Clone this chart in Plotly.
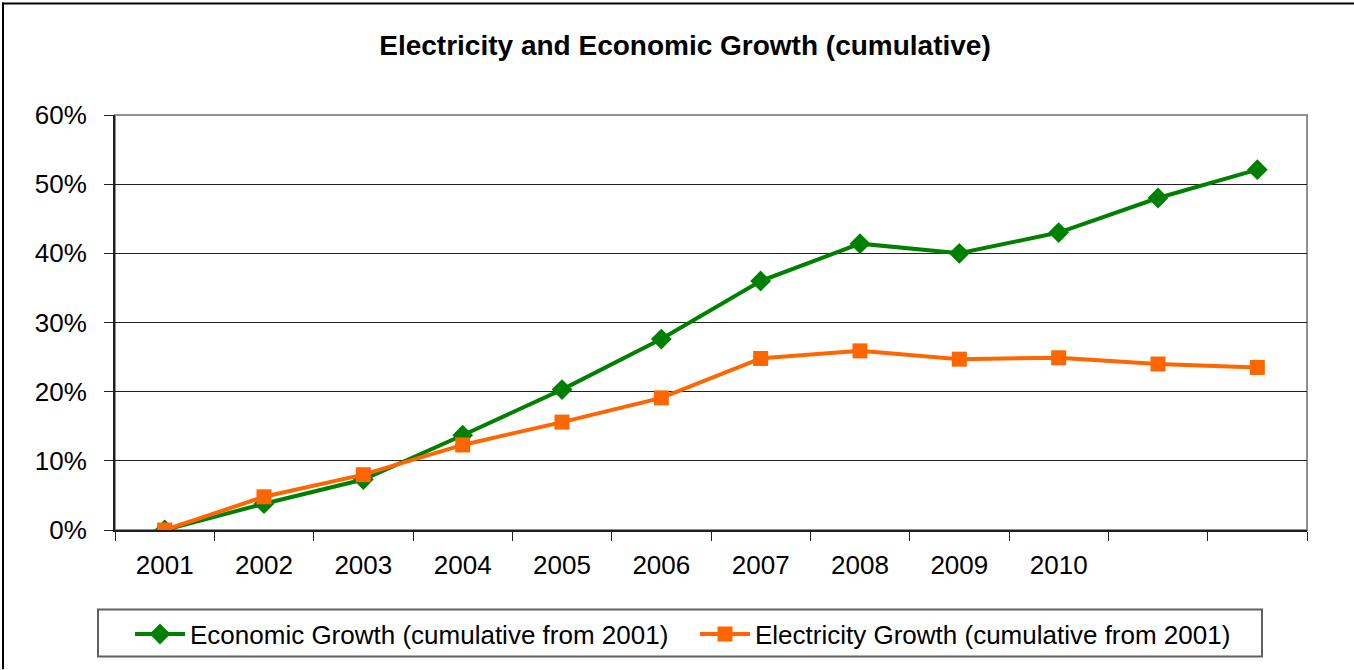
import plotly.graph_objects as go

years = ["2001", "2002", "2003", "2004", "2005", "2006", "2007", "2008", "2009", "2010", "2011", "2012"]
tick_labels = ["2001", "2002", "2003", "2004", "2005", "2006", "2007", "2008", "2009", "2010", "", ""]
economic = [0.0, 3.8, 7.3, 13.7, 20.3, 27.6, 36.0, 41.4, 40.0, 43.0, 48.0, 52.1]
electricity = [0.0, 4.8, 8.0, 12.3, 15.6, 19.1, 24.8, 25.9, 24.7, 24.9, 24.0, 23.5]
y_ticks = [0, 10, 20, 30, 40, 50, 60]

xs = list(range(len(years)))
FONT = "Liberation Sans, Arial, sans-serif"

W, H = 1354, 670
ML, MR, MT, MB = 115, 47, 115, 138
PW, PH = W - ML - MR, H - MT - MB


def px(x):
    return (x - ML) / PW


def py(y):
    return (H - MB - y) / PH


fig = go.Figure()
fig.add_trace(go.Scatter(
    x=xs, y=economic, mode="lines+markers",
    name="Economic Growth (cumulative from 2001)",
    line=dict(color="#008000", width=4),
    marker=dict(symbol="diamond", size=16, color="#008000"),
))
fig.add_trace(go.Scatter(
    x=xs, y=electricity, mode="lines+markers",
    name="Electricity Growth (cumulative from 2001)",
    line=dict(color="#FF6600", width=4),
    marker=dict(symbol="square", size=15, color="#FF6600"),
))

fig.update_layout(
    width=W, height=H,
    margin=dict(l=ML, r=MR, t=MT, b=MB),
    paper_bgcolor="white", plot_bgcolor="white",
    font=dict(family=FONT, size=26, color="black"),
    title=dict(text="<b>Electricity and Economic Growth (cumulative)</b>",
               x=685 / W, xanchor="center", y=1 - 45 / H, yanchor="middle",
               font=dict(size=28, family=FONT, color="black")),
    showlegend=True,
    legend=dict(orientation="h", x=px(695), xanchor="center", y=py(613), yanchor="top",
                borderwidth=0, bgcolor="rgba(0,0,0,0)", entrywidth=500,
                font=dict(size=26, family=FONT), itemwidth=50, tracegroupgap=0),
    shapes=[
        dict(type="rect", xref="paper", yref="paper", x0=0, x1=1, y0=0, y1=1,
             line=dict(color="#909090", width=2), layer="below"),
        dict(type="line", xref="paper", yref="paper", x0=px(3), x1=px(3), y0=py(2), y1=py(672),
             line=dict(color="black", width=2)),
        dict(type="line", xref="paper", yref="paper", x0=px(2), x1=px(1356), y0=py(3), y1=py(3),
             line=dict(color="black", width=2)),
        dict(type="rect", xref="paper", yref="paper", x0=px(98), x1=px(1262), y0=py(659), y1=py(612),
             line=dict(color="#606060", width=2)),
    ],
)

fig.update_xaxes(
    range=[-0.5, len(years) - 0.5],
    tickmode="array", tickvals=xs, ticktext=tick_labels, ticks="",
    showgrid=False, zeroline=False,
    showline=True, linecolor="#202020", linewidth=2,
    tickfont=dict(size=26, family=FONT), ticklabelstandoff=11,
    minor=dict(ticks="outside", tick0=-0.5, dtick=1, ticklen=9, tickcolor="#202020", tickwidth=1, showgrid=False),
)
fig.update_yaxes(
    range=[0, 60], tickmode="array", tickvals=y_ticks,
    ticktext=[f"{v}%" for v in y_ticks],
    ticks="outside", ticklen=9, tickcolor="#202020",
    showgrid=True, gridcolor="#202020", gridwidth=1,
    zeroline=False, showline=True, linecolor="#202020", linewidth=2,
    tickfont=dict(size=26, family=FONT), ticklabelstandoff=12,
)

fig.write_html("out.html")
